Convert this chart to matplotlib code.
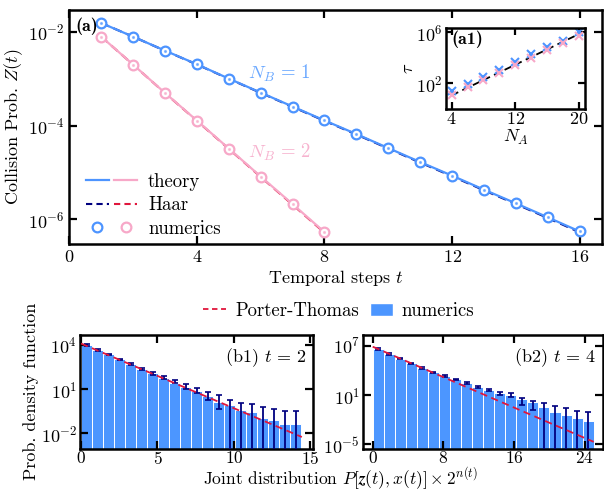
import numpy as np
import matplotlib
matplotlib.use("Agg")
import matplotlib.pyplot as plt
from matplotlib.legend_handler import HandlerTuple
from matplotlib.lines import Line2D
from matplotlib.patches import Patch
from matplotlib.ticker import FixedLocator, NullLocator, LogFormatterMathtext

plt.rcParams["font.family"] = "serif"
plt.rcParams["font.serif"] = ["cmr10"]
plt.rcParams["mathtext.fontset"] = "cm"
plt.rcParams["axes.formatter.use_mathtext"] = True
plt.rcParams["font.size"] = 13

# collision probability vs temporal step (log10 values)
t1 = np.arange(1, 17)
t2 = np.arange(1, 9)
z1_exp = [-1.808, -2.100, -2.398, -2.690, -2.996, -3.295, -3.593, -3.890,
          -4.181, -4.480, -4.779, -5.070, -5.369, -5.661, -5.960, -6.262]
z2_exp = [-2.100, -2.697, -3.302, -3.893, -4.490, -5.088, -5.678, -6.276]
haar1_exp = [-1.808, -2.100, -2.400, -2.694, -3.000, -3.300, -3.600, -3.898,
             -4.190, -4.490, -4.790, -5.082, -5.382, -5.675, -5.975, -6.280]
haar2_exp = [-2.100, -2.698, -3.305, -3.898, -4.497, -5.097, -5.690, -6.290]

# inset: tau vs N_A
na = [4, 6, 8, 10, 12, 14, 16, 18, 20]
tau1_exp = [1.42, 1.95, 2.47, 3.04, 3.64, 4.27, 4.87, 5.34, 6.00]
tau2_exp = [1.08, 1.68, 2.26, 2.83, 3.41, 4.01, 4.61, 5.14, 5.71]
fit_na = [4, 20]
fit_exp = [1.05, 5.85]

# histograms, t = 2
pdf1_exp = [4.00, 3.66, 3.37, 3.03, 2.73, 2.37, 2.07, 1.76, 1.45, 1.15,
            0.85, 0.55, 0.15, -0.09, -0.38, -0.55, -0.98, -1.07, -1.39, -1.39]
hi1_exp = [4.05, 3.71, 3.42, 3.08, 2.79, 2.45, 2.17, 1.91, 1.62, 1.35,
           1.10, 0.82, 0.58, 0.26, 0.10, 0.00, -0.20, -0.37, -0.50, -0.50]
lo1_exp = [3.95, 3.61, 3.32, 2.98, 2.67, 2.30, 1.97, 1.69, 1.39, 1.05,
           0.76, 0.26, -0.35, -9, -9, -9, -9, -9, -9, -9]
pt1_x = [0, 14.45]
pt1_exp = [4.10, -2.24]

# histograms, t = 4
pdf2_exp = [6.60, 5.99, 5.42, 4.86, 4.29, 3.76, 3.31, 2.91, 2.50, 1.94,
            1.60, 1.30, 1.00, 0.50, 0.10, -0.42, -1.03, -1.43, -1.83, -2.12]
hi2_exp = [6.68, 6.06, 5.50, 4.93, 4.36, 3.84, 3.38, 2.99, 2.60, 2.10,
           1.75, 1.40, 1.20, 0.64, 0.31, 0.07, -0.33, -0.62, -0.91, -1.07]
lo2_exp = [6.52, 5.92, 5.34, 4.79, 4.22, 3.68, 3.24, 2.83, 2.40, 1.80,
           1.45, 1.00, 0.80, -0.18, -0.82, -9, -9, -9, -9, -9]
pt2_x = [0, 25.0]
pt2_exp = [6.88, -4.68]

blue = "#4d94ff"
pink = "#f7a8c8"
navy = "#00007f"
red = "#e0163c"
barc = "#4c96ff"


def p10(a):
    return 10.0 ** np.asarray(a, dtype=float)


def style(ax, lw=1.8):
    for s in ax.spines.values():
        s.set_linewidth(lw)
    ax.tick_params(which="both", direction="in", top=True, right=True,
                   length=6, width=1.6, labelsize=13)
    ax.yaxis.set_minor_locator(NullLocator())


fig = plt.figure(figsize=(6.04, 4.91), dpi=100)
W, H = 604, 491


def box(l, t, r, b):
    return [l / W, 1 - b / H, (r - l) / W, (b - t) / H]


# ---- (a) collision probability
ax = fig.add_axes(box(69.3, 10, 602, 244))
ax.plot(t1, p10(haar1_exp), ls="--", color=navy, lw=1.5, dashes=(4, 2.5))
ax.plot(t2, p10(haar2_exp), ls="--", color=red, lw=1.5, dashes=(4, 2.5))
ax.plot(t1, p10(z1_exp), color=blue, lw=1.6)
ax.plot(t2, p10(z2_exp), color=pink, lw=1.6)
ax.plot(t1, p10(z1_exp), ls="none", marker="o", ms=7, mfc="white", mec=blue, mew=1.6)
ax.plot(t2, p10(z2_exp), ls="none", marker="o", ms=7, mfc="white", mec=pink, mew=1.6)
ax.plot(t1, p10(z1_exp), ls="none", marker=".", ms=2.5, color=blue, alpha=0.6)
ax.plot(t2, p10(z2_exp), ls="none", marker=".", ms=2.5, color=pink, alpha=0.6)
ax.set_yscale("log")
ax.set_xlim(0, 16.7)
ax.set_ylim(10 ** -6.53, 10 ** -1.53)
ax.set_xticks([0, 4, 8, 12, 16])
ax.yaxis.set_major_locator(FixedLocator([1e-6, 1e-4, 1e-2]))
ax.yaxis.set_major_formatter(LogFormatterMathtext())
style(ax)
ax.set_xlabel("Temporal steps $t$", labelpad=2)
ax.set_ylabel("Collision Prob. $Z(t)$", labelpad=2)
ax.text(0.012, 0.97, "(a)", transform=ax.transAxes, ha="left", va="top",
        family="cmb10", fontsize=13)
ax.text(6.6, 10 ** -2.875, r"$N_B\,=\,1$", color="#6aa8ff", fontsize=13.5,
        ha="center", va="center")
ax.text(6.6, 10 ** -4.58, r"$N_B\,=\,2$", color="#f7b3cf", fontsize=13.5,
        ha="center", va="center")

h_th = (Line2D([], [], color=blue, lw=1.6), Line2D([], [], color=pink, lw=1.6))
h_ha = (Line2D([], [], color=navy, lw=1.5, ls="--", dashes=(3, 2)),
        Line2D([], [], color=red, lw=1.5, ls="--", dashes=(3, 2)))
h_nu = (Line2D([], [], ls="none", marker="o", ms=7, mfc="white", mec=blue, mew=1.6),
        Line2D([], [], ls="none", marker="o", ms=7, mfc="white", mec=pink, mew=1.6))
ax.legend([h_th, h_ha, h_nu], ["theory", "Haar", "numerics"],
          handler_map={tuple: HandlerTuple(ndivide=None, pad=0.3)},
          loc="lower left", bbox_to_anchor=(0.0, -0.045), frameon=False,
          handlelength=2.7, handletextpad=0.6, labelspacing=0.3, fontsize=13.5)

# ---- (a1) inset
axi = fig.add_axes(box(445.7, 27.7, 585, 108.7))
axi.plot(fit_na, p10(fit_exp), ls="--", color="black", lw=1.3, dashes=(4, 2.5))
axi.plot(na, p10(tau1_exp), ls="none", marker="x", ms=5.5, mew=1.5, color=blue)
axi.plot(na, p10(tau2_exp), ls="none", marker="x", ms=5.5, mew=1.5, color=pink)
axi.set_yscale("log")
axi.set_xlim(3.24, 20.8)
axi.set_ylim(10 ** 0.0, 10 ** 6.36)
axi.set_xticks([4, 12, 20])
axi.yaxis.set_major_locator(FixedLocator([1e2, 1e6]))
axi.yaxis.set_major_formatter(LogFormatterMathtext())
style(axi)
axi.tick_params(length=5, pad=2)
axi.set_xlabel("$N_A$", labelpad=0)
axi.set_ylabel(r"$\tau$", labelpad=0)
axi.text(0.04, 0.96, "(a1)", transform=axi.transAxes, ha="left", va="top",
         family="cmb10", fontsize=13)

# ---- (b1) / (b2) histograms
panels = [
    (box(80, 335, 313.3, 448.5), np.linspace(0, 14.4, 21), pdf1_exp, hi1_exp, lo1_exp,
     pt1_x, pt1_exp, (-0.07, 15.2), (-3.02, 4.68), [0, 5, 10, 15],
     [1e-2, 1e1, 1e4], "(b1) $t\\,=\\,2$"),
    (box(362.7, 335, 602.5, 448.5), np.linspace(0, 25.0, 21), pdf2_exp, hi2_exp, lo2_exp,
     pt2_x, pt2_exp, (-1.13, 26.0), (-5.49, 8.3), [0, 8, 16, 24],
     [1e-5, 1e1, 1e7], "(b2) $t\\,=\\,4$"),
]
axes_b = []
for (rect, edges, hexp, hiexp, loexp, ptx, ptexp, xl, yl, xt, yt, tag) in panels:
    axb = fig.add_axes(rect)
    centers = 0.5 * (edges[:-1] + edges[1:])
    width = edges[1] - edges[0]
    h = p10(hexp)
    axb.bar(centers, h, width=width, color=barc, edgecolor="white", linewidth=0.7,
            zorder=1)
    yerr = [h - p10(loexp), p10(hiexp) - h]
    axb.errorbar(centers, h, yerr=yerr, ls="none", color=navy, elinewidth=1.3,
                 capsize=2.5, capthick=1.2, zorder=3)
    axb.plot(ptx, p10(ptexp), ls="--", color=red, lw=1.3, dashes=(4, 2.5), zorder=4)
    axb.set_yscale("log")
    axb.set_xlim(*xl)
    axb.set_ylim(10 ** yl[0], 10 ** yl[1])
    axb.set_xticks(xt)
    axb.yaxis.set_major_locator(FixedLocator(yt))
    axb.yaxis.set_major_formatter(LogFormatterMathtext())
    style(axb)
    axb.tick_params(axis="y", pad=2)
    axb.tick_params(axis="x", pad=1, labelsize=12.5)
    axb.text(0.97, 0.9, tag, transform=axb.transAxes, ha="right", va="top",
             fontsize=13)
    axes_b.append(axb)

axes_b[0].set_ylabel("Prob. density function", labelpad=1)
fig.text(0.563, 1 - 484.5 / H,
         r"Joint distribution $P[\mathbfit{z}(t), x(t)] \times 2^{n(t)}$",
         ha="center", va="baseline", fontsize=12.5)

leg_h = [Line2D([], [], ls="--", color=red, lw=1.3, dashes=(3, 2)),
         Patch(facecolor=barc, edgecolor="white")]
fig.legend(leg_h, ["Porter-Thomas", "numerics"], loc="center",
           bbox_to_anchor=(0.561, 1 - 311 / H), ncol=2, frameon=False,
           fontsize=13.5, handlelength=1.2, handletextpad=0.5, columnspacing=0.6)

fig.savefig("out.png", dpi=100)
